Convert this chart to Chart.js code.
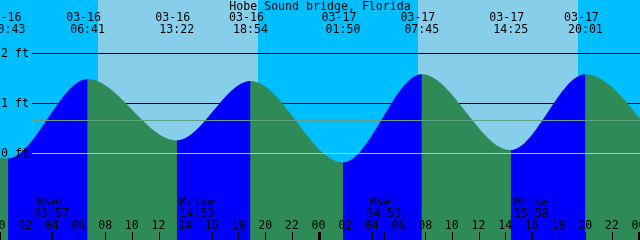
<!DOCTYPE html>
<html><head><meta charset="utf-8">
<script src="https://cdn.jsdelivr.net/npm/chart.js@4/dist/chart.umd.min.js"></script>
<style>html,body{margin:0;padding:0;background:#00bfff}#wrap{width:640px;height:240px}</style>
</head><body><div id="wrap"><canvas id="c" width="640" height="240"></canvas></div>
<script>
// ---- data ----
const chartTitle = 'Hobe Sound bridge, Florida';
const tideDates = ['03-15','03-16','03-16','03-16','03-16','03-17','03-17','03-17','03-17','03-18'];
const tideTimes = ['18:20','00:43','06:41','13:22','18:54','01:50','07:45','14:25','20:01','02:50'];
const tideFeet  = [1.40, -0.12, 1.48, 0.24, 1.44, -0.20, 1.58, 0.05, 1.58, -0.20];
const dayStart = ['03-16 07:26','03-17 07:26'];
const dayEnd   = ['03-16 19:29','03-17 19:28'];
const moonNames = ['Mset','Mrise','Mset','Mrise'];
const moonDates = ['03-16','03-16','03-17','03-17'];
const moonTimes = ['03:57','14:53','04:53','15:58'];
const gridFeet = [2, 1];
const datumFeet = 0;
const meanFeet = 0.65;
const axisHours  = [0,2,4,6,8,10,12,14,16,18,20,22,24,26,28,30,32,34,36,38,40,42,44,46,48];
const axisLabels = ['00','02','04','06','08','10','12','14','16','18','20','22','00','02','04','06','08','10','12','14','16','18','20','22','00'];
const midnightHours = [0, 24, 48];

// ---- helpers ----
function toHours(date, time){
  const day = parseInt(date.split('-')[1], 10) - 16;
  const [hh, mm] = time.split(':').map(Number);
  return day*24 + hh + mm/60;
}
const tidePoints = tideFeet.map((v,i)=>({x: toHours(tideDates[i], tideTimes[i]), y: v}));

const FONT = '11.6px "DejaVu Sans Mono", "Liberation Mono", monospace';
const DAY = '#87ceeb', NIGHT = '#00bfff', RISE = '#0000ff', FALL = '#2e8b57';

const tidePlugin = {
  id: 'tide',
  beforeDatasetsDraw(chart){
    const {ctx, chartArea:a, scales:{x, y}} = chart;
    ctx.save();
    ctx.fillStyle = NIGHT;
    ctx.fillRect(a.left, a.top, a.right-a.left, a.bottom-a.top);
    ctx.fillStyle = DAY;
    for (let i=0;i<dayStart.length;i++){
      const [d0,t0] = dayStart[i].split(' ');
      const [d1,t1] = dayEnd[i].split(' ');
      const x0 = Math.round(x.getPixelForValue(toHours(d0,t0)));
      const x1 = Math.round(x.getPixelForValue(toHours(d1,t1)));
      ctx.fillRect(x0, a.top, x1-x0, a.bottom-a.top);
    }
    ctx.strokeStyle = '#000'; ctx.lineWidth = 1;
    for (const f of gridFeet){
      const py = Math.round(y.getPixelForValue(f)) + 0.5;
      ctx.beginPath(); ctx.moveTo(32, py); ctx.lineTo(a.right, py); ctx.stroke();
    }
    ctx.restore();
  },
  afterDatasetsDraw(chart){
    const {ctx, chartArea:a, scales:{x, y}} = chart;
    ctx.save();
    ctx.lineWidth = 1;
    let py = Math.round(y.getPixelForValue(meanFeet)) + 0.5;
    ctx.strokeStyle = '#62a08a';
    ctx.beginPath(); ctx.moveTo(32, py); ctx.lineTo(a.right, py); ctx.stroke();
    py = Math.round(y.getPixelForValue(datumFeet)) + 0.5;
    ctx.strokeStyle = '#8fd0ea';
    ctx.beginPath(); ctx.moveTo(32, py); ctx.lineTo(a.right, py); ctx.stroke();

    ctx.fillStyle = '#000';
    ctx.font = FONT;
    ctx.textAlign = 'left'; ctx.textBaseline = 'alphabetic';
    for (const f of [...gridFeet, datumFeet]){
      const yy = Math.round(y.getPixelForValue(f));
      ctx.fillText(f + ' ft', 1, yy + 4);
    }
    ctx.textAlign = 'center';
    ctx.fillText(chartTitle, (a.left + a.right)/2, 10);
    for (let i=0;i<tidePoints.length;i++){
      const px = x.getPixelForValue(tidePoints[i].x);
      if (px < -40 || px > a.right + 40) continue;
      ctx.fillText(tideDates[i], px - 4, 21);
      ctx.fillText(tideTimes[i], px, 33);
    }
    for (let i=0;i<moonNames.length;i++){
      const px = x.getPixelForValue(toHours(moonDates[i], moonTimes[i]));
      ctx.fillText(moonNames[i], px, 206);
      ctx.fillText(moonTimes[i], px, 217);
      ctx.fillRect(Math.round(px), 232, 1, 8);
    }
    for (let i=0;i<axisHours.length;i++){
      const px = x.getPixelForValue(axisHours[i]);
      ctx.fillText(axisLabels[i], px, 229);
      ctx.fillRect(Math.round(px), 232, 1, 8);
    }
    for (const h of midnightHours){
      const px = x.getPixelForValue(h);
      ctx.fillRect(Math.round(px)-1, 232, 3, 8);
    }
    ctx.restore();
  }
};

const rising = c => c.p1.parsed.y > c.p0.parsed.y;
new Chart(document.getElementById('c'), {
  type: 'line',
  data: {
    datasets: [{
      // rising parts (drawn on top)
      data: tidePoints,
      parsing: false,
      fill: 'start',
      backgroundColor: RISE,
      borderWidth: 0,
      pointRadius: 0,
      cubicInterpolationMode: 'monotone',
      segment: {
        backgroundColor: c => rising(c) ? RISE : 'rgba(0,0,0,0)',
        borderColor: c => rising(c) ? RISE : 'rgba(0,0,0,0)'
      }
    }, {
      // whole curve in falling colour underneath
      data: tidePoints,
      parsing: false,
      fill: 'start',
      backgroundColor: FALL,
      borderWidth: 0,
      pointRadius: 0,
      cubicInterpolationMode: 'monotone'
    }]
  },
  options: {
    responsive: false,
    animation: false,
    layout: {padding: 0},
    plugins: {legend: {display: false}, tooltip: {enabled: false}, title: {display: false}},
    scales: {
      x: {type: 'linear', min: 0.1125, max: 48.1125, display: false},
      y: {type: 'linear', min: -1.764, max: 3.075, display: false}
    }
  },
  plugins: [tidePlugin]
});
</script>
</body></html>
